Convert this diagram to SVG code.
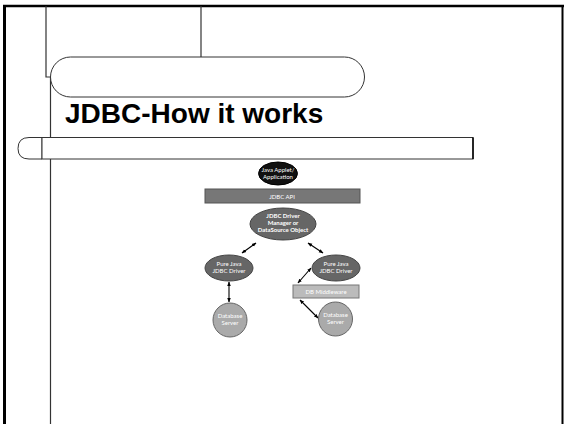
<svg xmlns="http://www.w3.org/2000/svg" width="565" height="424" viewBox="0 0 565 424">
<defs>
<style>
.frame{fill:none;stroke:#000}
.ln{fill:none;stroke:#333;stroke-width:1.2}
.shape{fill:#fff;stroke:#333;stroke-width:1}
.title{font-family:"Liberation Sans",Arial,sans-serif;font-weight:bold;font-size:28px;fill:#000}
.lbl{font-family:Lato,"Open Sans",sans-serif;font-size:6px;fill:#fff;text-anchor:middle}
.conn{fill:none;stroke:#000;stroke-width:1.1;marker-start:url(#ah);marker-end:url(#ah)}
</style>
<marker id="ah" viewBox="0 0 10 10" refX="9" refY="5" markerWidth="4.5" markerHeight="4.5" orient="auto-start-reverse" markerUnits="userSpaceOnUse">
<path d="M0,1 L10,5 L0,9 Z" fill="#000"/>
</marker>
</defs>
<rect width="565" height="424" fill="#fff"/>
<g id="frame">
<path class="frame" d="M4.5,426 V6" stroke-width="3"/>
<path class="frame" d="M3,6 H564" stroke-width="2.5"/>
<path class="frame" d="M562.5,5 V426" stroke-width="2"/>
</g>
<g id="decor">
<path class="ln" d="M46,6 V77 H50.5 V424"/>
<path class="ln" d="M201,6 V57"/>
<rect class="shape" x="50.5" y="57" width="314" height="40" rx="20" ry="20"/>
<path class="shape" d="M42,137.5 H29 Q18,137.5 18,148.5 Q18,159 29,159 H42 Z"/>
<rect class="shape" x="42" y="137.5" width="431" height="21.5"/>
<path d="M473,137.5 V159" stroke="#000" stroke-width="1.5"/>
</g>
<text class="title" x="65" y="122.5">JDBC-How it works</text>
<g id="connectors">
<line class="conn" x1="256" y1="243" x2="242" y2="253"/>
<line class="conn" x1="308" y1="243" x2="323" y2="253"/>
<line class="conn" x1="229" y1="282" x2="229" y2="302"/>
<line class="conn" x1="311" y1="268" x2="298" y2="283"/>
<line class="conn" x1="300" y1="300" x2="318" y2="318"/>
</g>
<g id="app">
<ellipse cx="278" cy="173.5" rx="19.5" ry="11.5" fill="#111" stroke="#000"/>
<text class="lbl" x="278" y="172">Java Applet/</text>
<text class="lbl" x="278" y="179">Application</text>
</g>
<g id="jdbcapi">
<rect x="205" y="189" width="155" height="14" fill="#777" stroke="#555"/>
<text class="lbl" x="282" y="198.5" fill="#eee">JDBC API</text>
</g>
<g id="manager">
<ellipse cx="283" cy="224" rx="33" ry="16" fill="#666" stroke="#444"/>
<text class="lbl" x="283" y="218" font-weight="bold">JDBC Driver</text>
<text class="lbl" x="283" y="225" font-weight="bold">Manager or</text>
<text class="lbl" x="283" y="232" font-weight="bold">DataSource Object</text>
</g>
<g id="driver1">
<ellipse cx="229" cy="268" rx="24" ry="13" fill="#666" stroke="#444"/>
<text class="lbl" x="229" y="266">Pure Java</text>
<text class="lbl" x="229" y="273">JDBC Driver</text>
</g>
<g id="driver2">
<ellipse cx="336" cy="268" rx="24" ry="13" fill="#666" stroke="#444"/>
<text class="lbl" x="336" y="266">Pure Java</text>
<text class="lbl" x="336" y="273">JDBC Driver</text>
</g>
<g id="middleware">
<rect x="293" y="285" width="66" height="13" fill="#bbb" stroke="#777"/>
<text class="lbl" x="326" y="293.5">DB Middleware</text>
</g>
<g id="db1">
<circle cx="230" cy="320" r="17" fill="#aaa" stroke="#666"/>
<text class="lbl" x="230" y="318">Database</text>
<text class="lbl" x="230" y="325">Server</text>
</g>
<g id="db2">
<circle cx="335.5" cy="319" r="17" fill="#aaa" stroke="#666"/>
<text class="lbl" x="335.5" y="317">Database</text>
<text class="lbl" x="335.5" y="324">Server</text>
</g>
</svg>
